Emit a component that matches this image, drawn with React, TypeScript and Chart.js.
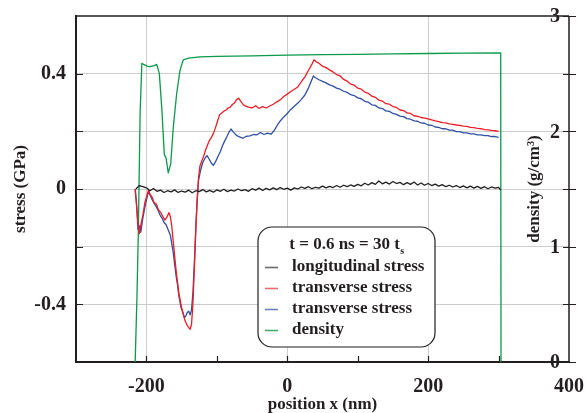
import { useEffect, useRef } from 'react';
import { Chart, registerables } from 'chart.js';

Chart.register(...registerables);

// ---------- data ----------
const longX = [-215,-210,-205,-200,-195,-190,-185,-180,-175,-170,-165,-160,-155,-150,-145,-140,-135,-130,-125,-120,-115,-110,-105,-100,-95,-90,-85,-80,-75,-70,-65,-60,-55,-50,-45,-40,-35,-30,-25,-20,-15,-10,-5,0,5,10,15,20,25,30,35,40,45,50,55,60,65,70,75,80,85,90,95,100,105,110,115,120,125,130,135,140,145,150,155,160,165,170,175,180,185,190,195,200,205,210,215,220,225,230,235,240,245,250,255,260,265,270,275,280,285,290,295,300,303];
const longStress = [0.000,0.012,0.008,0.004,-0.006,0.002,-0.008,-0.004,-0.012,-0.006,-0.010,-0.003,-0.012,-0.007,-0.011,-0.004,-0.013,-0.006,-0.009,-0.002,-0.010,-0.005,-0.011,-0.003,-0.008,-0.001,-0.009,-0.004,-0.007,0.000,-0.006,-0.002,-0.008,0.001,-0.004,0.003,-0.005,0.002,-0.003,0.004,-0.002,0.005,-0.001,0.003,-0.004,0.004,0.000,0.007,0.002,0.008,0.001,0.006,0.003,0.010,0.004,0.009,0.005,0.012,0.006,0.013,0.008,0.014,0.009,0.016,0.011,0.020,0.014,0.022,0.016,0.028,0.018,0.024,0.017,0.026,0.019,0.023,0.015,0.022,0.016,0.024,0.014,0.021,0.013,0.019,0.012,0.017,0.010,0.015,0.008,0.013,0.007,0.012,0.005,0.011,0.004,0.010,0.003,0.009,0.002,0.008,0.001,0.007,0.003,0.006,-0.004];

const redX = [-216,-214,-212,-210,-208,-205,-202,-199,-197,-195,-192,-189,-186,-183,-180,-177,-174,-171,-168,-166,-164,-162,-160,-158,-156,-154,-151,-148,-145,-142,-140,-138,-136,-134,-132,-130,-128,-126,-124,-121,-119,-116,-114,-111,-108,-105,-102,-99,-96,-93,-90,-87,-84,-81,-78,-75,-72,-69,-66,-63,-60,-55,-50,-45,-40,-35,-30,-25,-20,-15,-10,-5,0,5,10,15,20,25,30,35,38,41,45,50,55,60,65,70,75,80,85,90,95,100,105,110,115,120,125,130,135,140,145,150,155,160,165,170,175,180,185,190,195,200,205,210,215,220,225,230,235,240,245,250,255,260,265,270,275,280,285,290,295,300];
const redStress = [0.000,-0.060,-0.120,-0.155,-0.125,-0.090,-0.045,-0.020,-0.004,-0.018,-0.028,-0.048,-0.052,-0.072,-0.080,-0.094,-0.108,-0.098,-0.082,-0.096,-0.130,-0.180,-0.230,-0.280,-0.320,-0.360,-0.400,-0.432,-0.458,-0.474,-0.480,-0.487,-0.470,-0.400,-0.280,-0.150,-0.040,0.040,0.080,0.100,0.112,0.135,0.148,0.166,0.178,0.192,0.212,0.236,0.258,0.264,0.270,0.274,0.281,0.284,0.293,0.298,0.310,0.315,0.304,0.294,0.288,0.284,0.281,0.289,0.279,0.286,0.281,0.288,0.294,0.302,0.309,0.321,0.329,0.338,0.346,0.354,0.372,0.389,0.411,0.433,0.448,0.441,0.436,0.426,0.421,0.413,0.406,0.397,0.392,0.380,0.374,0.364,0.360,0.350,0.346,0.336,0.332,0.322,0.318,0.308,0.305,0.296,0.294,0.286,0.283,0.274,0.272,0.264,0.262,0.254,0.252,0.248,0.246,0.243,0.240,0.236,0.234,0.230,0.229,0.226,0.224,0.222,0.221,0.218,0.217,0.214,0.213,0.210,0.209,0.206,0.205,0.203,0.202,0.200];

const blueX = [-216,-214,-212,-210,-208,-205,-202,-199,-197,-195,-192,-189,-186,-183,-180,-178,-175,-172,-169,-166,-164,-162,-160,-158,-156,-154,-151,-148,-146,-144,-142,-140,-138,-136,-134,-132,-130,-128,-126,-123,-120,-117,-114,-111,-108,-105,-102,-99,-95,-92,-89,-86,-83,-80,-77,-74,-71,-67,-63,-58,-53,-48,-43,-38,-33,-28,-23,-18,-14,-10,-5,0,5,10,15,20,25,30,34,37,40,45,50,55,60,65,70,75,80,85,90,95,100,105,110,115,120,125,130,135,140,145,150,155,160,165,170,175,180,185,190,195,200,205,210,215,220,225,230,235,240,245,250,255,260,265,270,275,280,285,290,295,300];
const blueStress = [0.000,-0.050,-0.140,-0.128,-0.150,-0.100,-0.060,-0.028,-0.008,-0.020,-0.036,-0.050,-0.062,-0.076,-0.094,-0.100,-0.116,-0.124,-0.142,-0.160,-0.190,-0.220,-0.260,-0.300,-0.330,-0.370,-0.410,-0.430,-0.446,-0.440,-0.428,-0.424,-0.436,-0.420,-0.360,-0.260,-0.140,-0.040,0.030,0.066,0.092,0.106,0.116,0.104,0.090,0.082,0.094,0.110,0.130,0.150,0.166,0.180,0.196,0.208,0.199,0.191,0.184,0.180,0.176,0.183,0.184,0.189,0.188,0.196,0.189,0.194,0.190,0.205,0.222,0.236,0.250,0.262,0.276,0.287,0.298,0.311,0.326,0.350,0.374,0.392,0.386,0.379,0.373,0.368,0.361,0.357,0.350,0.346,0.339,0.335,0.327,0.324,0.316,0.313,0.304,0.301,0.292,0.290,0.281,0.279,0.271,0.269,0.262,0.259,0.253,0.251,0.244,0.242,0.236,0.235,0.229,0.228,0.222,0.221,0.215,0.214,0.209,0.209,0.204,0.204,0.199,0.199,0.195,0.195,0.191,0.191,0.188,0.188,0.185,0.185,0.182,0.182,0.179];

const densX = [-216,-213.5,-211.5,-209,-206.5,-204,-199,-194.9,-189,-185.4,-181.7,-178.3,-174.6,-172.2,-169,-165.5,-161.8,-157,-152.3,-147.7,-140,-124,-100,-50,0,50,100,150,200,250,303,303.5];
const density = [0,0.55,1.12,2.15,2.59,2.58,2.565,2.56,2.57,2.58,2.50,2.21,1.80,1.77,1.64,1.72,2.04,2.33,2.53,2.62,2.635,2.645,2.65,2.655,2.66,2.665,2.668,2.672,2.675,2.678,2.68,0];

const seriesLabels = ['longitudinal stress', 'transverse stress', 'transverse stress', 'density'];
const xTickLabels = ['-200', '0', '200', '400'];
const stressTickLabels = ['-0.4', '0', '0.4'];
const densityTickLabels = ['0', '1', '2', '3'];
const legendTitle = 't = 0.6 ns = 30 t';
const legendTitleSub = 's';
const xTitle = 'position x (nm)';
const yTitle = 'stress (GPa)';
const y2Title = 'density (g/cm³)';

// ---------- styles ----------
const FONT = "'Liberation Serif', 'Times New Roman', Times, serif";
const DARK = '#231f20';
const GRID = '#cccccc';
const COLORS = ['#231f20', '#ed1c24', '#2e4fa3', '#0a9a48'];
const LEGEND_COLORS = ['#6d6a6b', '#f26a6f', '#6c84c4', '#44ad72'];
const TICK_SIZE = 20;
const TITLE_SIZE = 17;
const LEGEND_SIZE = 17;

const pts = (xs: number[], ys: number[]) => xs.map((x, i) => ({ x, y: ys[i] }));

const noPad = (s: any) => {
  s.paddingLeft = 0;
  s.paddingRight = 0;
  s.paddingTop = 0;
  s.paddingBottom = 0;
};

const framePlugin = {
  id: 'frame',
  afterDraw(chart: any) {
    const { ctx, chartArea: a, scales } = chart;
    const xs = scales.x, ys = scales.y, y2 = scales.y2;
    ctx.save();
    ctx.strokeStyle = DARK;
    ctx.lineWidth = 1.5;
    ctx.beginPath();
    ctx.moveTo(a.left, a.top);
    ctx.lineTo(a.right, a.top);
    ctx.moveTo(a.right, a.top);
    ctx.lineTo(a.right, a.bottom + 1);
    ctx.stroke();

    ctx.lineWidth = 1.2;
    ctx.beginPath();
    xs.ticks.forEach((t: any) => {
      if (t.value > xs.min && t.value < xs.max) {
        const p = Math.round(xs.getPixelForValue(t.value)) + 0.5;
        ctx.moveTo(p, a.bottom);
        ctx.lineTo(p, a.bottom - 6);
      }
    });
    ys.ticks.forEach((t: any) => {
      if (t.value > ys.min && t.value < ys.max) {
        const p = Math.round(ys.getPixelForValue(t.value)) + 0.5;
        ctx.moveTo(a.left, p);
        ctx.lineTo(a.left + 7, p);
      }
    });
    y2.ticks.forEach((t: any) => {
      const p = Math.round(y2.getPixelForValue(t.value)) + 0.5;
      ctx.moveTo(a.right - 6, p);
      ctx.lineTo(a.right + 7, p);
    });
    ctx.stroke();

    // right axis tick labels (inside, left of the right axis)
    ctx.fillStyle = DARK;
    ctx.font = `bold ${TICK_SIZE}px ${FONT}`;
    ctx.textAlign = 'right';
    ctx.textBaseline = 'middle';
    y2.ticks.forEach((t: any) => {
      const s = String(Math.round(t.value * 10) / 10);
      if (densityTickLabels.includes(s)) {
        ctx.fillText(s, a.right - 9, y2.getPixelForValue(t.value) + 1);
      }
    });

    // right axis title
    ctx.save();
    ctx.translate(a.right - 34, (a.top + a.bottom) / 2);
    ctx.rotate(-Math.PI / 2);
    ctx.fillStyle = DARK;
    ctx.font = `bold ${TITLE_SIZE}px ${FONT}`;
    ctx.textAlign = 'center';
    ctx.textBaseline = 'middle';
    ctx.fillText(y2Title, 0, 0);
    ctx.restore();

    // legend box
    const bx = a.left + 182, by = 227, bw = 177, bh = 120, r = 14;
    ctx.beginPath();
    ctx.moveTo(bx + r, by);
    ctx.arcTo(bx + bw, by, bx + bw, by + bh, r);
    ctx.arcTo(bx + bw, by + bh, bx, by + bh, r);
    ctx.arcTo(bx, by + bh, bx, by, r);
    ctx.arcTo(bx, by, bx + bw, by, r);
    ctx.closePath();
    ctx.fillStyle = '#ffffff';
    ctx.fill();
    ctx.lineWidth = 1.2;
    ctx.strokeStyle = DARK;
    ctx.stroke();

    ctx.fillStyle = DARK;
    ctx.textBaseline = 'middle';
    ctx.textAlign = 'left';
    ctx.font = `bold ${LEGEND_SIZE}px ${FONT}`;
    const tw = ctx.measureText(legendTitle).width;
    ctx.font = `bold 10px ${FONT}`;
    const sw = ctx.measureText(legendTitleSub).width;
    const tx = bx + bw / 2 - (tw + sw) / 2;
    ctx.font = `bold ${LEGEND_SIZE}px ${FONT}`;
    ctx.fillText(legendTitle, tx, by + 18);
    ctx.font = `bold 10px ${FONT}`;
    ctx.fillText(legendTitleSub, tx + tw + 0.5, by + 24);

    ctx.font = `bold ${LEGEND_SIZE}px ${FONT}`;
    chart.data.datasets.forEach((ds: any, i: number) => {
      const yy = by + 40 + i * 21;
      ctx.strokeStyle = LEGEND_COLORS[i];
      ctx.lineWidth = 1.6;
      ctx.beginPath();
      ctx.moveTo(bx + 7, yy + 0.5);
      ctx.lineTo(bx + 20, yy + 0.5);
      ctx.stroke();
      ctx.fillStyle = DARK;
      ctx.fillText(ds.label, bx + 34, yy);
    });
    ctx.restore();
  },
};

export default function App() {
  const ref = useRef<HTMLCanvasElement>(null);
  useEffect(() => {
    if (!ref.current) return;
    const chart = new Chart(ref.current, {
      type: 'line',
      data: {
        datasets: [
          { label: seriesLabels[0], data: pts(longX, longStress), borderColor: COLORS[0], yAxisID: 'y' },
          { label: seriesLabels[1], data: pts(redX, redStress), borderColor: COLORS[1], yAxisID: 'y' },
          { label: seriesLabels[2], data: pts(blueX, blueStress), borderColor: COLORS[2], yAxisID: 'y' },
          { label: seriesLabels[3], data: pts(densX, density), borderColor: COLORS[3], yAxisID: 'y2' },
        ],
      },
      options: {
        responsive: false,
        animation: false,
        devicePixelRatio: 1,
        layout: { padding: { top: 16, right: 18, left: 0, bottom: 0 } },
        elements: {
          point: { radius: 0 },
          line: { borderWidth: 1.3, tension: 0, borderJoinStyle: 'round' },
        },
        plugins: { legend: { display: false }, tooltip: { enabled: false } },
        scales: {
          x: {
            type: 'linear',
            min: -300,
            max: 400,
            afterFit: (s: any) => { s.height = 51; noPad(s); },
            ticks: {
              stepSize: 100,
              autoSkip: false,
              maxRotation: 0,
              padding: 15,
              color: DARK,
              font: { family: FONT, size: TICK_SIZE, weight: 'bold', lineHeight: 1 },
              callback: (v: any) => {
                const s = String(Math.round(Number(v)));
                return xTickLabels.includes(s) ? s : '';
              },
            },
            grid: {
              drawTicks: false,
              color: (c: any) => {
                const v = c.tick ? c.tick.value : 0;
                return Math.abs(v % 200) < 1e-6 && v > -300 && v < 400 ? GRID : 'rgba(0,0,0,0)';
              },
            },
            border: { color: DARK, width: 2 },
            title: {
              display: true,
              text: xTitle,
              color: DARK,
              padding: 0,
              font: { family: FONT, size: TITLE_SIZE, weight: 'bold', lineHeight: 1 },
            },
          },
          y: {
            position: 'left',
            min: -0.6,
            max: 0.6,
            afterFit: (s: any) => { s.width = 76; noPad(s); },
            ticks: {
              stepSize: 0.2,
              padding: 10,
              color: DARK,
              font: { family: FONT, size: TICK_SIZE, weight: 'bold', lineHeight: 1 },
              callback: (v: any) => {
                const s = String(Math.round(Number(v) * 10) / 10);
                return stressTickLabels.includes(s) ? s : '';
              },
            },
            grid: {
              drawTicks: false,
              color: (c: any) => {
                const v = c.tick ? c.tick.value : 0;
                return v > -0.59 && v < 0.59 ? GRID : 'rgba(0,0,0,0)';
              },
            },
            border: { color: DARK, width: 2 },
            title: {
              display: true,
              text: yTitle,
              color: DARK,
              padding: { top: 12, bottom: 0 },
              font: { family: FONT, size: TITLE_SIZE, weight: 'bold', lineHeight: 1 },
            },
          },
          y2: {
            position: 'right',
            min: 0,
            max: 3,
            afterFit: (s: any) => { s.width = 0; noPad(s); },
            ticks: { stepSize: 0.5, display: false },
            grid: { display: false, drawTicks: false },
            border: { display: false },
          },
        },
      } as any,
      plugins: [framePlugin],
    });
    return () => chart.destroy();
  }, []);

  return (
    <div style={{ position: 'absolute', left: 0, top: 0, width: 587, height: 413, background: '#fff' }}>
      <canvas ref={ref} width={587} height={413} style={{ display: 'block' }} />
    </div>
  );
}
